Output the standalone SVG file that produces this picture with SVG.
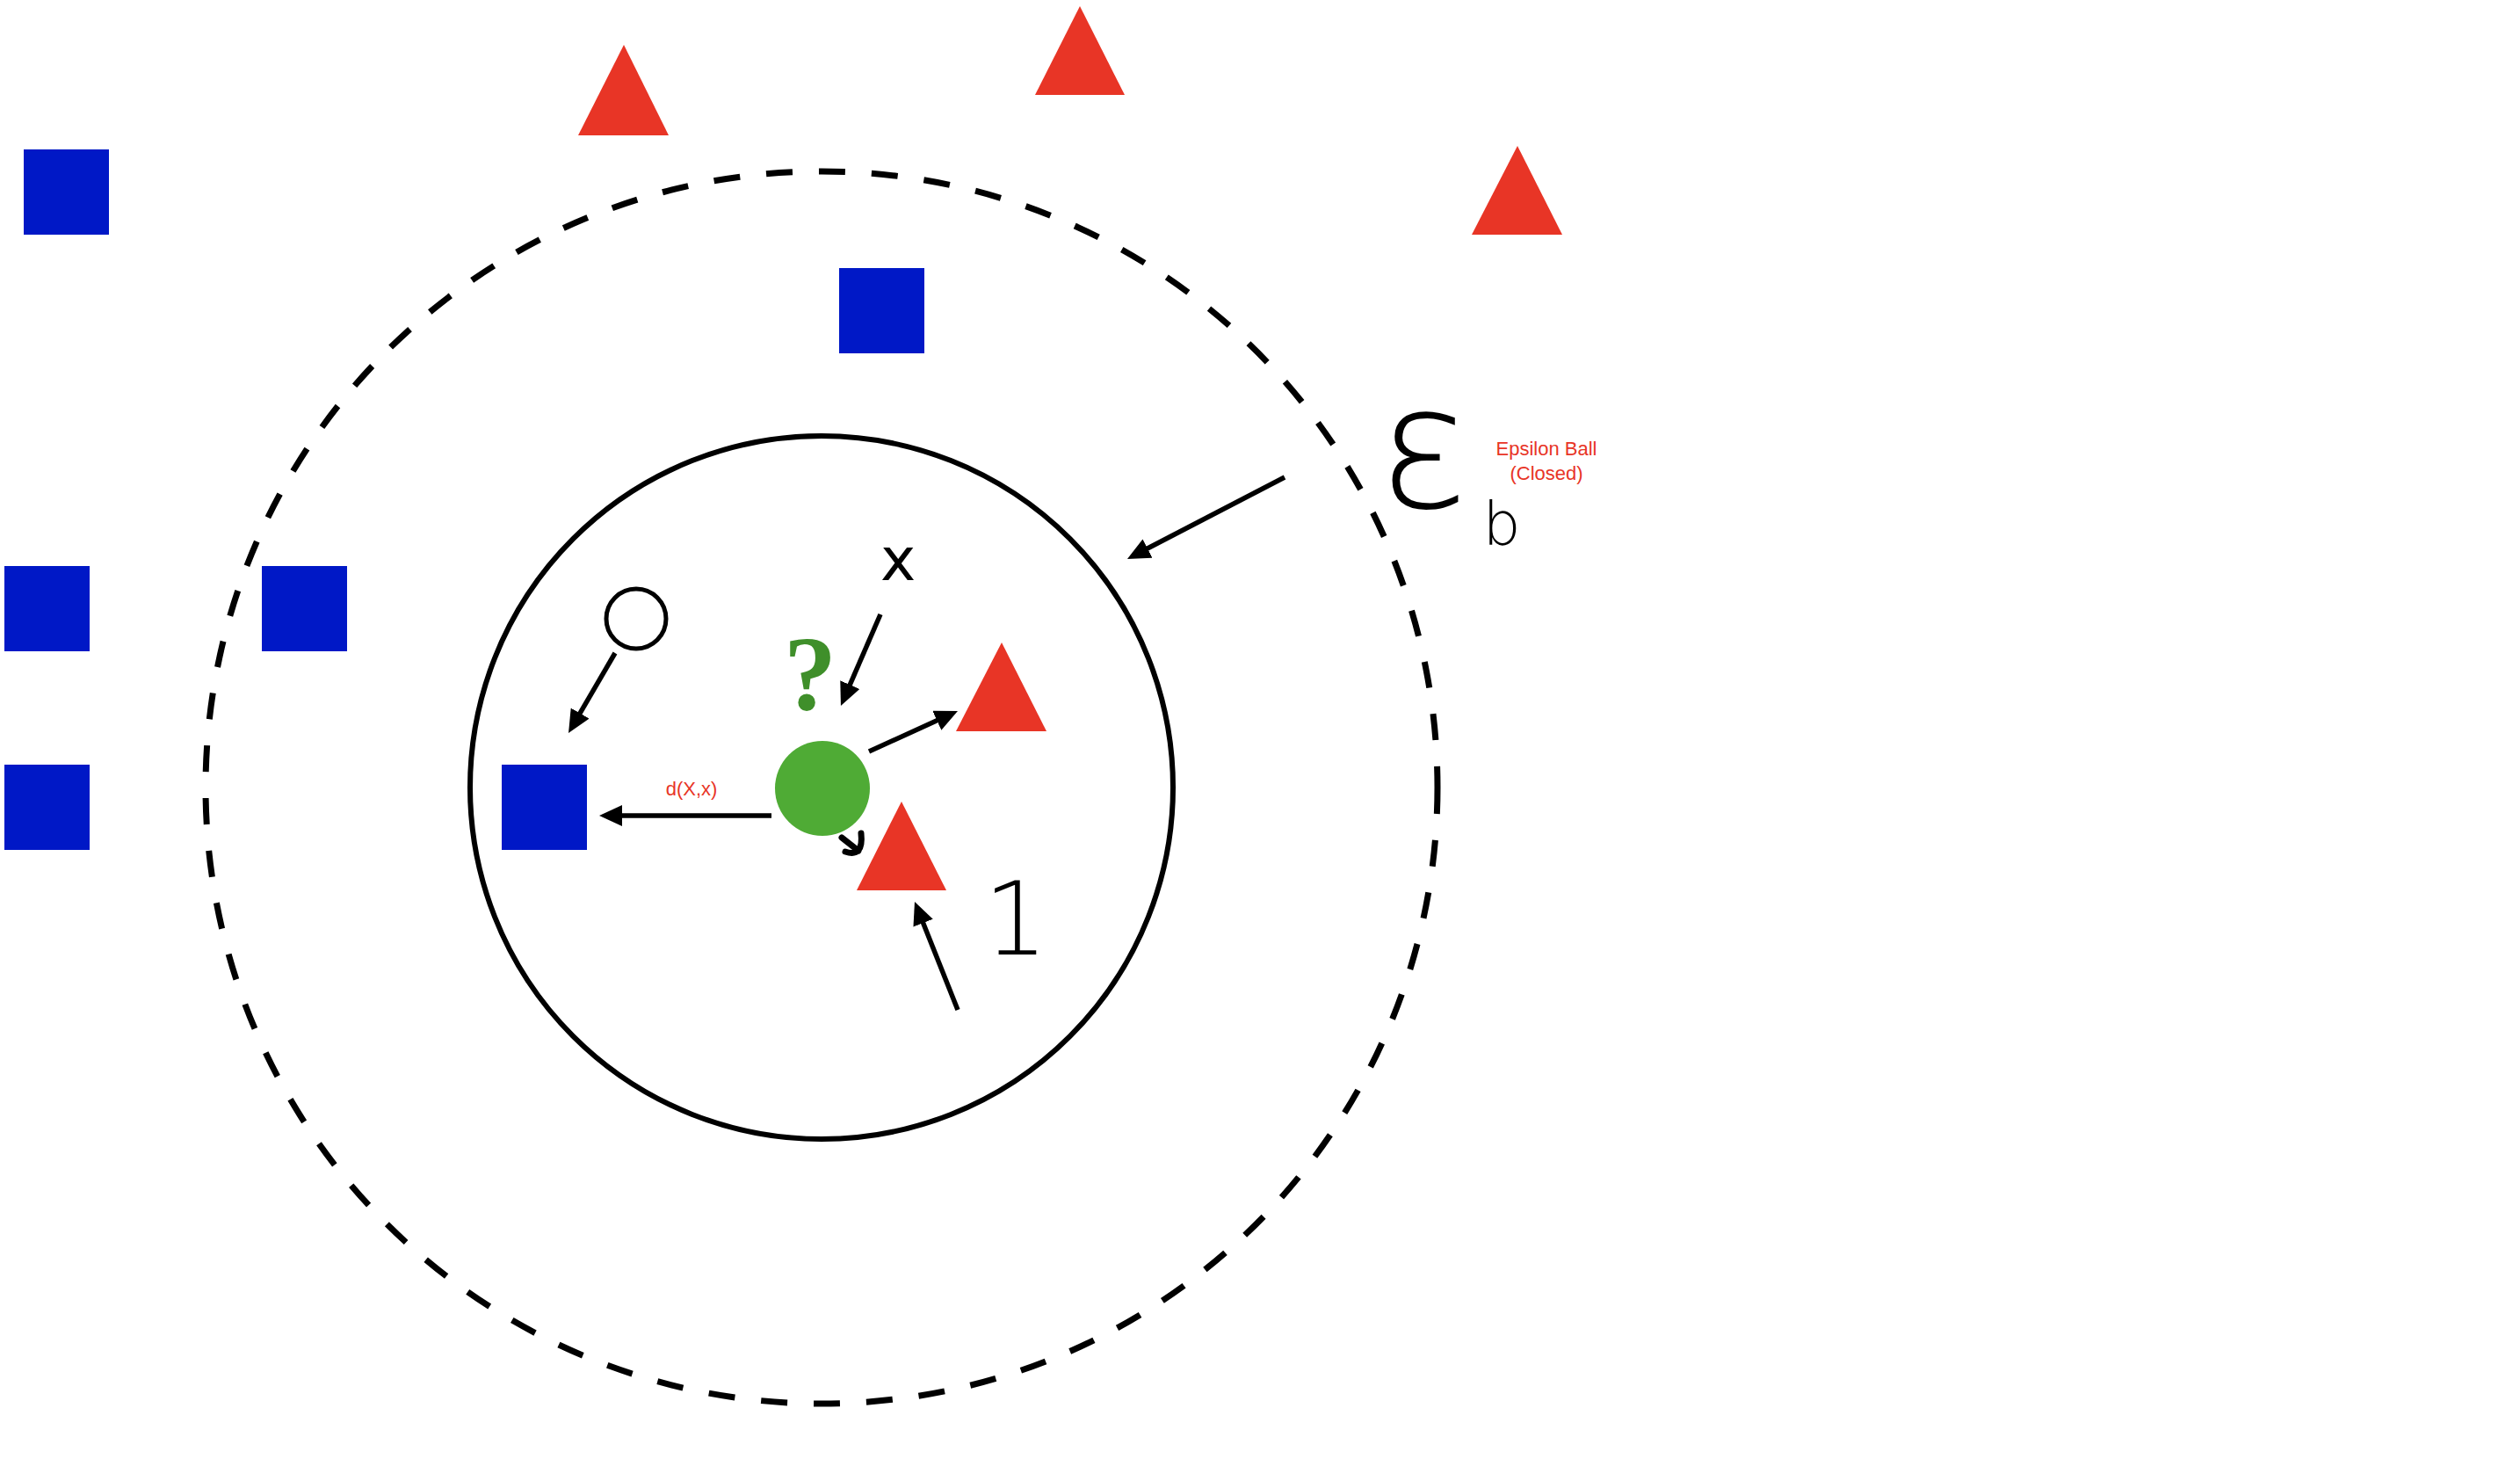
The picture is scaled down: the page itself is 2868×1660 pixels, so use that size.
<svg xmlns="http://www.w3.org/2000/svg" width="2868" height="1660" viewBox="0 0 2868 1660">
<defs>
<style>
.sq{fill:#0018c6}
.tri{fill:#e83526}
.ln{stroke:#000;stroke-width:5.5;fill:none;marker-end:url(#ah)}
.lbl{font-family:"Liberation Sans",Arial,sans-serif;font-size:22px;fill:#e83526;text-anchor:middle}
.hw{font-family:"DejaVu Sans",sans-serif;font-weight:200;fill:#000;text-anchor:middle}
</style>
<marker id="ah" viewBox="0 0 26 24" refX="6" refY="12" markerWidth="26" markerHeight="24" markerUnits="userSpaceOnUse" orient="auto">
<path d="M0,0 L26,12 L0,24 Z" fill="#000"/>
</marker>
</defs>
<rect width="2868" height="1660" fill="#fff"/>
<g id="dashed-ball">
<circle cx="935" cy="896" r="701" fill="none" stroke="#000" stroke-width="7" stroke-dasharray="30 30"/>
</g>
<g id="solid-ball">
<circle cx="935" cy="896" r="400" fill="none" stroke="#000" stroke-width="6"/>
</g>
<g id="sq1"><rect class="sq" x="27" y="170" width="97" height="97"/></g>
<g id="sq2"><rect class="sq" x="955" y="305" width="97" height="97"/></g>
<g id="sq3"><rect class="sq" x="5" y="644" width="97" height="97"/></g>
<g id="sq4"><rect class="sq" x="298" y="644" width="97" height="97"/></g>
<g id="sq5"><rect class="sq" x="5" y="870" width="97" height="97"/></g>
<g id="sq6"><rect class="sq" x="571" y="870" width="97" height="97"/></g>
<g id="tri1"><polygon class="tri" points="710,51 761,154 658,154"/></g>
<g id="tri2"><polygon class="tri" points="1229,7 1280,108 1178,108"/></g>
<g id="tri3"><polygon class="tri" points="1727,166 1778,267 1675,267"/></g>
<g id="tri4"><polygon class="tri" points="1140,731 1191,832 1088,832"/></g>
<g id="tri5"><polygon class="tri" points="1026,912 1077,1013 975,1013"/></g>
<g id="query"><circle cx="936" cy="897" r="54" fill="#4fab35"/>
<text x="922" y="807" font-family="Liberation Serif,serif" font-weight="bold" font-size="120" fill="#3f8f2a" text-anchor="middle">?</text></g>
<g id="open-circle"><circle cx="724" cy="704" r="34" fill="none" stroke="#000" stroke-width="5"/></g>
<g id="labels">
<text class="lbl" x="787" y="905">d(X,x)</text>
<text class="lbl" x="1760" y="518">Epsilon Ball</text>
<text class="lbl" x="1760" y="546">(Closed)</text>
<text class="hw" x="1022" y="660" font-size="68" style="font-weight:normal">x</text>
<text class="hw" x="1156" y="1086" font-size="115">1</text>
<text class="hw" x="1620" y="577" font-size="195">ε</text>
<text class="hw" x="1709" y="620" font-size="68">b</text>
</g>
<g id="connectors">
<line class="ln" x1="1462" y1="543" x2="1300.7" y2="626.8"/>
<line class="ln" x1="700" y1="743" x2="657.1" y2="816.7"/>
<line class="ln" x1="1002" y1="699" x2="964.9" y2="784.6"/>
<line class="ln" x1="989" y1="855" x2="1071.8" y2="817.3"/>
<line class="ln" x1="878" y1="928" x2="702" y2="928"/>
<line class="ln" x1="1090" y1="1149" x2="1048.4" y2="1044.6"/>
<path d="M958,953 L977,968 M980,948 Q983,976 962,969" fill="none" stroke="#000" stroke-width="7" stroke-linecap="round" stroke-linejoin="round"/>
</g>
</svg>
